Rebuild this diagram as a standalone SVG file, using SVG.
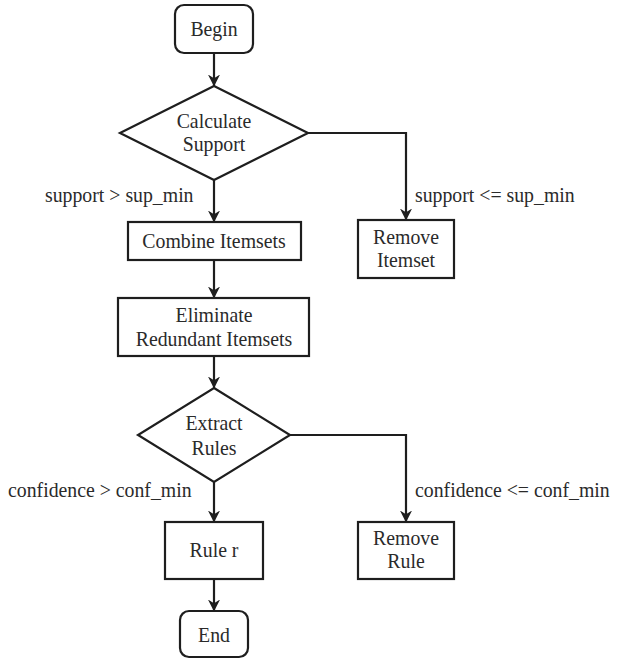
<svg xmlns="http://www.w3.org/2000/svg" width="619" height="660" viewBox="0 0 619 660">
  <style>
    .shape { fill: #ffffff; stroke: #1e1e1e; stroke-width: 2.2; }
    .link { fill: none; stroke: #1e1e1e; stroke-width: 2.2; }
    .lbl { font-family: 'Liberation Serif', 'Times New Roman', 'DejaVu Serif', serif; font-size: 22px; fill: #2a2a2a; }
    .mid { text-anchor: middle; }
  </style>
  <defs>
    <marker id="arrow" viewBox="0 0 10 10" refX="9.5" refY="5" markerWidth="5.5" markerHeight="5.5" orient="auto" markerUnits="strokeWidth">
      <path d="M0,0 L10,5 L0,10 L3,5 z" fill="#1e1e1e"/>
    </marker>
  </defs>
  <rect width="619" height="660" fill="#ffffff"/>

  <!-- connectors and their condition labels -->
  <g id="connectors">
    <path class="link" d="M214,53 L214,86" marker-end="url(#arrow)"/>
    <path class="link" d="M214,180 L214,222" marker-end="url(#arrow)"/>
    <path class="link" d="M308,133 L406,133 L406,220" marker-end="url(#arrow)"/>
    <path class="link" d="M214,260 L214,298" marker-end="url(#arrow)"/>
    <path class="link" d="M214,356 L214,388" marker-end="url(#arrow)"/>
    <path class="link" d="M214,482 L214,522" marker-end="url(#arrow)"/>
    <path class="link" d="M290,435 L406,435 L406,522" marker-end="url(#arrow)"/>
    <path class="link" d="M214,579 L214,611" marker-end="url(#arrow)"/>
    <g font-family="Liberation Serif, serif">
      <text class="lbl" transform="translate(45 202) scale(0.9 1)">support &gt; sup_min</text>
      <text class="lbl" transform="translate(415 202) scale(0.9 1)">support &lt;= sup_min</text>
      <text class="lbl" transform="translate(8 497) scale(0.9 1)">confidence &gt; conf_min</text>
      <text class="lbl" transform="translate(415 497) scale(0.9 1)">confidence &lt;= conf_min</text>
    </g>
  </g>

  <g id="begin">
    <rect class="shape" x="175" y="5" width="78" height="48" rx="9"/>
    <text class="lbl mid" transform="translate(214 36) scale(0.9 1)">Begin</text>
  </g>

  <g id="calculate-support">
    <polygon class="shape" points="214,86 308,133 214,180 120,133"/>
    <text class="lbl mid" transform="translate(214 128) scale(0.9 1)">Calculate</text>
    <text class="lbl mid" transform="translate(214 151) scale(0.9 1)">Support</text>
  </g>

  <g id="combine-itemsets">
    <rect class="shape" x="128" y="222" width="173" height="38"/>
    <text class="lbl mid" transform="translate(214 248) scale(0.9 1)">Combine Itemsets</text>
  </g>

  <g id="remove-itemset">
    <rect class="shape" x="358" y="220" width="96" height="58"/>
    <text class="lbl mid" transform="translate(406 244) scale(0.9 1)">Remove</text>
    <text class="lbl mid" transform="translate(406 267) scale(0.9 1)">Itemset</text>
  </g>

  <g id="eliminate-redundant">
    <rect class="shape" x="118" y="298" width="191" height="58"/>
    <text class="lbl mid" transform="translate(214 322) scale(0.9 1)">Eliminate</text>
    <text class="lbl mid" transform="translate(214 346) scale(0.9 1)">Redundant Itemsets</text>
  </g>

  <g id="extract-rules">
    <polygon class="shape" points="214,388 290,435 214,482 138,435"/>
    <text class="lbl mid" transform="translate(214 430) scale(0.9 1)">Extract</text>
    <text class="lbl mid" transform="translate(214 455) scale(0.9 1)">Rules</text>
  </g>

  <g id="ruler">
    <rect class="shape" x="165" y="522" width="98" height="57"/>
    <text class="lbl mid" transform="translate(214 557) scale(0.9 1)">Rule r</text>
  </g>

  <g id="remove-rule">
    <rect class="shape" x="358" y="522" width="96" height="57"/>
    <text class="lbl mid" transform="translate(406 545) scale(0.9 1)">Remove</text>
    <text class="lbl mid" transform="translate(406 568) scale(0.9 1)">Rule</text>
  </g>

  <g id="end">
    <rect class="shape" x="180" y="611" width="68" height="46" rx="9"/>
    <text class="lbl mid" transform="translate(214 642) scale(0.9 1)">End</text>
  </g>
</svg>
